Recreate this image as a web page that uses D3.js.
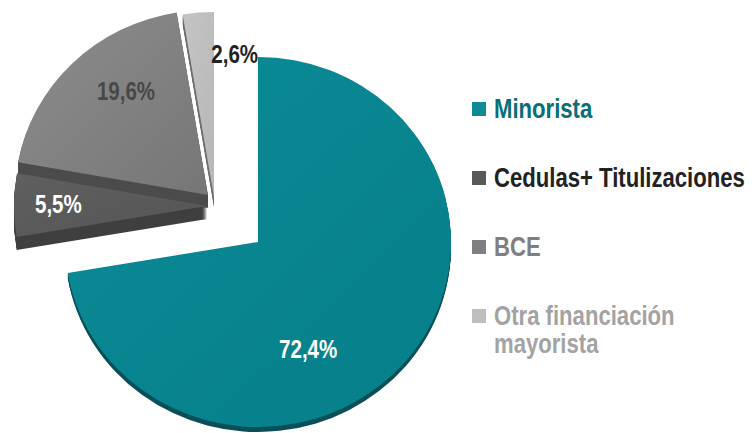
<!DOCTYPE html>
<html><head><meta charset="utf-8">
<script src="https://cdn.jsdelivr.net/npm/d3@7/dist/d3.min.js"></script>
<style>
html,body{margin:0;padding:0;background:#fff;}
svg{display:block;}
text{font-family:'Liberation Sans',Arial,sans-serif;font-weight:bold;}
</style></head>
<body>
<svg id="chart" width="754" height="433"></svg>
<script>
// ---- data ----
const categories = ["Minorista", "Cedulas+ Titulizaciones", "BCE", "Otra financiación mayorista"];
const values = [72.4, 5.5, 19.6, 2.6];
const valueLabels = ["72,4%", "5,5%", "19,6%", "2,6%"];
const legendLines = [["Minorista"], ["Cedulas+ Titulizaciones"], ["BCE"], ["Otra financiación", "mayorista"]];

// ---- styles / layout ----
const faceTop = ["#0b8b96", "#5f5f5f", "#8d8d8d", "#c4c4c4"];
const faceBot = ["#067f8a", "#555555", "#767676", "#b7b7b7"];
const sideColor = ["#0a4f57", "#3f3f3f", "#4b4b4b", "#6d6d6d"];
const depth = [5, 13, 13, 10];
const explode = [[0, 0], [-51, -36], [-50, -47], [-44, -45]];
const labelColor = ["#ffffff", "#ffffff", "#484848", "#222222"];
const labelPos = [[0.26, 0.58], [-0.77, -0.01], [-0.425, -0.56], [0.107, -0.77]]; // radius units rel. to slice apex
const legendSquare = ["#0e8a96", "#595959", "#808080", "#bfbfbf"];
const legendText = ["#0a6e78", "#222222", "#7f7f7f", "#a3a3a3"];
const narrow = 0.79; // Arial Narrow ≈ Arial compressed horizontally

const cx = 258, cy = 242, R = 185, sx = 193 / 185;

const svg = d3.select("#chart");
const defs = svg.append("defs");
faceTop.forEach((c, i) => {
  const g = defs.append("linearGradient").attr("id", "g" + i)
    .attr("x1", "0").attr("y1", "0").attr("x2", "1").attr("y2", "1");
  g.append("stop").attr("offset", "0%").attr("stop-color", c);
  g.append("stop").attr("offset", "100%").attr("stop-color", faceBot[i]);
});

const pie = d3.pie().sort(null).value(d => d).startAngle(0).endAngle(2 * Math.PI);
const arcs = pie(values);
const arc = d3.arc().innerRadius(0).outerRadius(R);

// draw order: back (exploded) slices then front
const order = [3, 2, 1, 0];
const pieG = svg.append("g");
order.forEach(i => {
  const a = arcs[i];
  const ox = cx + explode[i][0], oy = cy + explode[i][1];
  const g = pieG.append("g");
  g.selectAll("path.side").data(d3.range(1, depth[i] + 1)).enter().append("path")
    .attr("class", "side")
    .attr("d", arc(a))
    .attr("fill", sideColor[i])
    .attr("transform", k => `translate(${ox},${oy + k}) scale(${sx},1)`);
  g.append("path")
    .attr("d", arc(a))
    .attr("fill", `url(#g${i})`)
    .attr("transform", `translate(${ox},${oy}) scale(${sx},1)`);
});

// value labels
arcs.forEach((a, i) => {
  const ox = cx + explode[i][0], oy = cy + explode[i][1];
  const x = ox + labelPos[i][0] * R * sx, y = oy + labelPos[i][1] * R;
  svg.append("text")
    .attr("transform", `translate(${x},${y}) scale(${narrow},1)`)
    .attr("text-anchor", "middle")
    .attr("dominant-baseline", "central")
    .attr("font-size", 26)
    .attr("fill", labelColor[i])
    .text(valueLabels[i]);
});

// legend
const ly = d3.scalePoint().domain(categories).range([118, 325]);
const leg = svg.append("g");
categories.forEach((c, i) => {
  const y = ly(c);
  leg.append("rect").attr("x", 472).attr("y", y - 16).attr("width", 14).attr("height", 14)
    .attr("fill", legendSquare[i]);
  legendLines[i].forEach((line, j) => {
    leg.append("text")
      .attr("transform", `translate(494,${y + j * 28}) scale(${narrow},1)`)
      .attr("font-size", 28)
      .attr("fill", legendText[i])
      .text(line);
  });
});
</script>
</body></html>
